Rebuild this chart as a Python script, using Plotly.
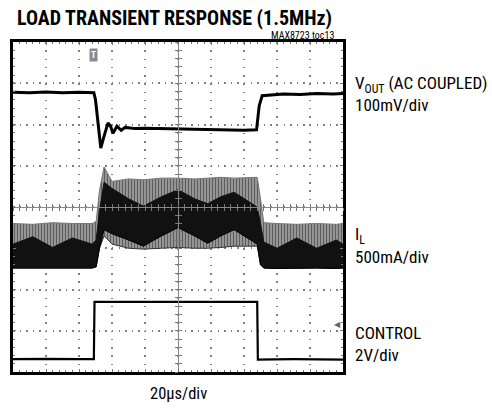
import plotly.graph_objects as go

# scope screen: 10 x 8 divisions, values in divisions
t_vout = [0, 0.5, 1.0, 1.5, 2.0, 2.45, 2.5, 2.57, 2.66, 2.76, 2.88, 2.96, 3.03, 3.15, 3.28, 3.4, 3.7,
          4.0, 4.5, 5.0, 5.5, 6.0, 6.5, 7.0, 7.38, 7.46, 7.55, 7.8, 8.2, 8.7, 9.2, 9.7, 10]
vout = [6.78, 6.77, 6.79, 6.77, 6.78, 6.77, 6.6, 6.1, 5.43, 5.72, 6.04, 5.95, 5.79, 5.96, 5.86, 5.93, 5.9,
        5.91, 5.9, 5.89, 5.88, 5.87, 5.86, 5.86, 5.87, 6.45, 6.7, 6.72, 6.74, 6.73, 6.75, 6.74, 6.75]

t_ctrl = [0, 1.0, 2.0, 2.45, 2.47, 3.5, 5.0, 6.5, 7.4, 7.42, 8.5, 10]
ctrl = [0.31, 0.32, 0.31, 0.31, 1.70, 1.70, 1.71, 1.70, 1.70, 0.30, 0.31, 0.30]

t_il = [0, 0.6, 1.2, 1.8, 2.4, 2.52, 2.62, 2.76, 3.0, 3.5, 3.95, 4.5, 5.0, 5.5, 5.9, 6.3, 6.7,
        7.1, 7.4, 7.5, 7.6, 8.0, 8.6, 9.2, 9.8, 10]
il_hi = [3.6, 3.58, 3.62, 3.6, 3.6, 3.65, 4.4, 4.97, 4.62, 4.68, 4.66, 4.7, 4.7, 4.68, 4.7, 4.72, 4.7,
         4.72, 4.72, 4.2, 3.62, 3.6, 3.58, 3.6, 3.58, 3.6]
il_lo = [2.52, 2.52, 2.51, 2.52, 2.52, 2.55, 3.0, 3.3, 3.1, 3.0, 2.98, 3.0, 3.02, 3.0, 3.0, 3.02, 3.05,
         3.05, 3.05, 2.6, 2.52, 2.51, 2.52, 2.52, 2.51, 2.52]
core_hi = [3.1, 3.28, 3.02, 3.25, 3.1, 3.2, 3.9, 4.6, 4.45, 4.2, 4.02, 4.25, 4.42, 4.2, 4.08, 4.25, 4.36,
           4.15, 4.0, 3.6, 3.15, 3.0, 3.25, 3.0, 3.2, 3.1]
core_lo = [2.52, 2.52, 2.51, 2.52, 2.52, 2.55, 3.0, 3.45, 3.35, 3.2, 3.05, 3.3, 3.5, 3.3, 3.12, 3.3, 3.45,
           3.25, 3.1, 2.6, 2.52, 2.51, 2.52, 2.52, 2.51, 2.52]

FONT = ("Roboto Condensed, Noto Sans Condensed, DejaVu Sans Condensed, "
        "Liberation Sans Narrow, Arial Narrow, Liberation Sans, Arial")

fig = go.Figure()

# inductor current band (switching ripple)
fig.add_trace(go.Scatter(x=t_il, y=il_lo, mode="lines", line=dict(color="#333", width=1)))
fig.add_trace(go.Scatter(x=t_il, y=il_hi, mode="lines", line=dict(color="#777", width=1),
                         fill="tonexty", fillcolor="#9a9a9a",
                         fillpattern=dict(shape="|", bgcolor="#a0a0a0", fgcolor="#1a1a1a",
                                          size=3, solidity=0.45)))
fig.add_trace(go.Scatter(x=t_il, y=core_lo, mode="lines", line=dict(color="black", width=1)))
fig.add_trace(go.Scatter(x=t_il, y=core_hi, mode="lines", line=dict(color="#111", width=1),
                         fill="tonexty", fillcolor="#111"))

fig.add_trace(go.Scatter(x=t_vout, y=vout, mode="lines", line=dict(color="black", width=3)))
fig.add_trace(go.Scatter(x=t_ctrl, y=ctrl, mode="lines", line=dict(color="black", width=2.2)))

# dummy traces so the centre crosshair axes get drawn
fig.add_trace(go.Scatter(x=[None], y=[None], xaxis="x2", yaxis="y2"))
fig.add_trace(go.Scatter(x=[None], y=[None], xaxis="x3", yaxis="y3"))

border = dict(showline=True, linecolor="black", linewidth=3, mirror="ticks", ticks="inside",
              ticklen=3, tickcolor="#777", showticklabels=False, zeroline=False, automargin=False,
              gridcolor="#808080", gridwidth=1.5,
              minor=dict(ticks="inside", ticklen=2, tickcolor="#777"))
cross = dict(showline=True, linecolor="#888", linewidth=1, showticklabels=False, showgrid=False,
             zeroline=False, automargin=False, ticklen=3, tickcolor="#777", anchor="free", position=0.5)

fig.update_layout(
    width=492, height=409,
    margin=dict(l=13, r=149, t=42, b=37, autoexpand=False),
    plot_bgcolor="white", paper_bgcolor="white",
    showlegend=False,
    font=dict(family=FONT, color="black"),
    xaxis=dict(range=[0, 10], dtick=1, griddash="1.5px,6.75px", **border),
    yaxis=dict(range=[0, 8], dtick=1, griddash="1.5px,5.1px", **border),
    xaxis2=dict(range=[0, 10], dtick=0.2, ticks="outside", overlaying="x", **cross),
    xaxis3=dict(range=[0, 10], dtick=0.2, ticks="inside", overlaying="x", **cross),
    yaxis2=dict(range=[0, 8], dtick=0.2, ticks="outside", overlaying="y", **cross),
    yaxis3=dict(range=[0, 8], dtick=0.2, ticks="inside", overlaying="y", **cross),
)
fig.update_xaxes(minor_dtick=0.2, selector=dict(anchor="y"))
fig.update_yaxes(minor_dtick=0.2, selector=dict(anchor="x"))

notes = [
    dict(text="<b>LOAD TRANSIENT RESPONSE (1.5MHz)</b>", x=0.006, y=1.074, xref="paper", yref="paper",
         xanchor="left", yanchor="middle", font=dict(size=20)),
    dict(text="MAX8723 toc13", x=0.979, y=1.021, xref="paper", yref="paper",
         xanchor="right", yanchor="middle", font=dict(size=10)),
    dict(text="V<sub>OUT</sub> (AC COUPLED)", x=1.03, y=6.96, xref="paper", yref="y",
         xanchor="left", yanchor="middle", font=dict(size=17)),
    dict(text="100mV/div", x=1.03, y=6.47, xref="paper", yref="y",
         xanchor="left", yanchor="middle", font=dict(size=17)),
    dict(text="I<sub>L</sub>", x=1.03, y=3.32, xref="paper", yref="y",
         xanchor="left", yanchor="middle", font=dict(size=17)),
    dict(text="500mA/div", x=1.03, y=2.79, xref="paper", yref="y",
         xanchor="left", yanchor="middle", font=dict(size=17)),
    dict(text="CONTROL", x=1.03, y=0.95, xref="paper", yref="y",
         xanchor="left", yanchor="middle", font=dict(size=17)),
    dict(text="2V/div", x=1.03, y=0.41, xref="paper", yref="y",
         xanchor="left", yanchor="middle", font=dict(size=17)),
    dict(text="20µs/div", x=0.5, y=-0.064, xref="paper", yref="paper",
         xanchor="center", yanchor="middle", font=dict(size=16.5)),
    dict(text="<b>T</b>", x=2.45, y=0.96, xref="x", yref="paper", xanchor="center", yanchor="middle",
         font=dict(size=9, color="white"), bgcolor="#8a8a8a", borderpad=1),
    dict(text="◀", x=0.982, y=1.14, xref="paper", yref="y", xanchor="center", yanchor="middle",
         font=dict(size=8, color="#666", family="DejaVu Sans")),
]
for a in notes:
    fig.add_annotation(showarrow=False, **a)

# drop the browser's default 8px body margin so the figure sits at the page corner
fig.write_html("out.html", config={"displayModeBar": False},
               post_script="document.body.style.margin='0';")
